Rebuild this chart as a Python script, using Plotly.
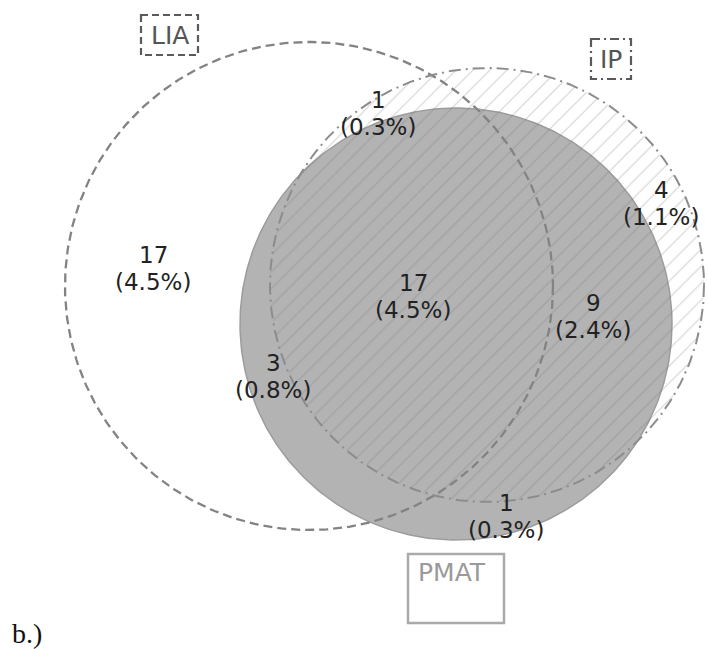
import numpy as np
import plotly.graph_objects as go

# ---- data ----
set_names = ["LIA", "IP", "PMAT"]
region_names = ["LIA only", "LIA & IP only", "LIA & IP & PMAT", "IP & PMAT only",
                "IP only", "LIA & PMAT only", "PMAT only"]
region_counts = [17, 1, 17, 9, 4, 3, 1]
region_pcts = ["4.5%", "0.3%", "4.5%", "2.4%", "1.1%", "0.8%", "0.3%"]
panel_label = "b.)"

# ---- layout geometry (pixel space of the 708x649 window) ----
W, H = 708, 649
circles = {  # cx, cy, r
    "LIA": (309, 286, 244),
    "IP": (487, 285, 217),
    "PMAT": (456, 324, 216),
}
label_pos = [(153, 268), (378, 113), (413, 296), (593, 316), (661, 203), (273, 376), (506, 516)]
set_boxes = {
    "LIA": dict(rect=(141, 15, 198, 55), text=(170, 35), dash="7px,4px", color="#5a5a5a", fcolor="#555555", lw=2.2),
    "IP": dict(rect=(591, 39, 631, 79), text=(611, 59), dash="9px,4px,2px,4px", color="#5a5a5a", fcolor="#555555", lw=2.2),
    "PMAT": dict(rect=(408, 554, 504, 623), text=(452, 572), dash="solid", color="#aaaaaa", fcolor="#9a9a9a", lw=2.5),
}

def circ(cx, cy, r, n=400):
    t = np.linspace(0, 2 * np.pi, n)
    return cx + r * np.cos(t), cy + r * np.sin(t)

fig = go.Figure()

# PMAT filled
x, y = circ(*circles["PMAT"])
fig.add_trace(go.Scatter(x=x, y=y, mode="lines", fill="toself", fillcolor="#b3b3b3",
                         line=dict(color="#9c9c9c", width=1.5), hoverinfo="skip", showlegend=False))
# IP hatched
x, y = circ(*circles["IP"])
fig.add_trace(go.Scatter(x=x, y=y, mode="lines", fill="toself", fillcolor="rgba(0,0,0,0)",
                         fillpattern=dict(shape="/", size=12, solidity=0.1,
                                          fgcolor="rgba(110,110,110,0.6)", bgcolor="rgba(0,0,0,0)"),
                         line=dict(color="rgba(0,0,0,0)", width=0), hoverinfo="skip", showlegend=False))
# outlines
x, y = circ(*circles["LIA"])
fig.add_trace(go.Scatter(x=x, y=y, mode="lines", line=dict(color="#838383", width=2.3, dash="9px,5px"),
                         hoverinfo="skip", showlegend=False))
x, y = circ(*circles["IP"])
fig.add_trace(go.Scatter(x=x, y=y, mode="lines", line=dict(color="#8c8c8c", width=2, dash="12px,5px,2px,5px"),
                         hoverinfo="skip", showlegend=False))

# region labels
for (px, py), c, p in zip(label_pos, region_counts, region_pcts):
    fig.add_annotation(x=px, y=py - 13.5, text=str(c), showarrow=False,
                       font=dict(family="DejaVu Sans", size=23, color="#222222"),
                       xanchor="center", yanchor="middle")
    fig.add_annotation(x=px, y=py + 13.5, text="(" + p + ")", showarrow=False,
                       font=dict(family="DejaVu Sans", size=23, color="#222222"),
                       xanchor="center", yanchor="middle")

# set labels with boxes
for name in set_names:
    b = set_boxes[name]
    x0, y0, x1, y1 = b["rect"]
    fig.add_shape(type="rect", x0=x0, y0=y0, x1=x1, y1=y1, xref="x", yref="y",
                  line=dict(color=b["color"], width=b["lw"], dash=b["dash"]), fillcolor="rgba(0,0,0,0)")
    tx, ty = b["text"]
    fig.add_annotation(x=tx, y=ty, text=name, showarrow=False,
                       font=dict(family="DejaVu Sans", size=25, color=b["fcolor"]),
                       xanchor="center", yanchor="middle")

fig.add_annotation(x=10, y=633, text=panel_label, showarrow=False,
                   font=dict(family="Liberation Serif", size=28, color="#111111"),
                   xanchor="left", yanchor="middle")

fig.update_layout(width=W, height=H, autosize=False, margin=dict(l=0, r=0, t=0, b=0),
                  paper_bgcolor="white", plot_bgcolor="white", hovermode=False,
                  xaxis=dict(range=[0, W], visible=False, fixedrange=True),
                  yaxis=dict(range=[H, 0], visible=False, fixedrange=True))
fig.write_html("out.html", config={"displayModeBar": False},
               post_script="document.body.style.margin='0px';document.body.style.overflow='hidden';")
